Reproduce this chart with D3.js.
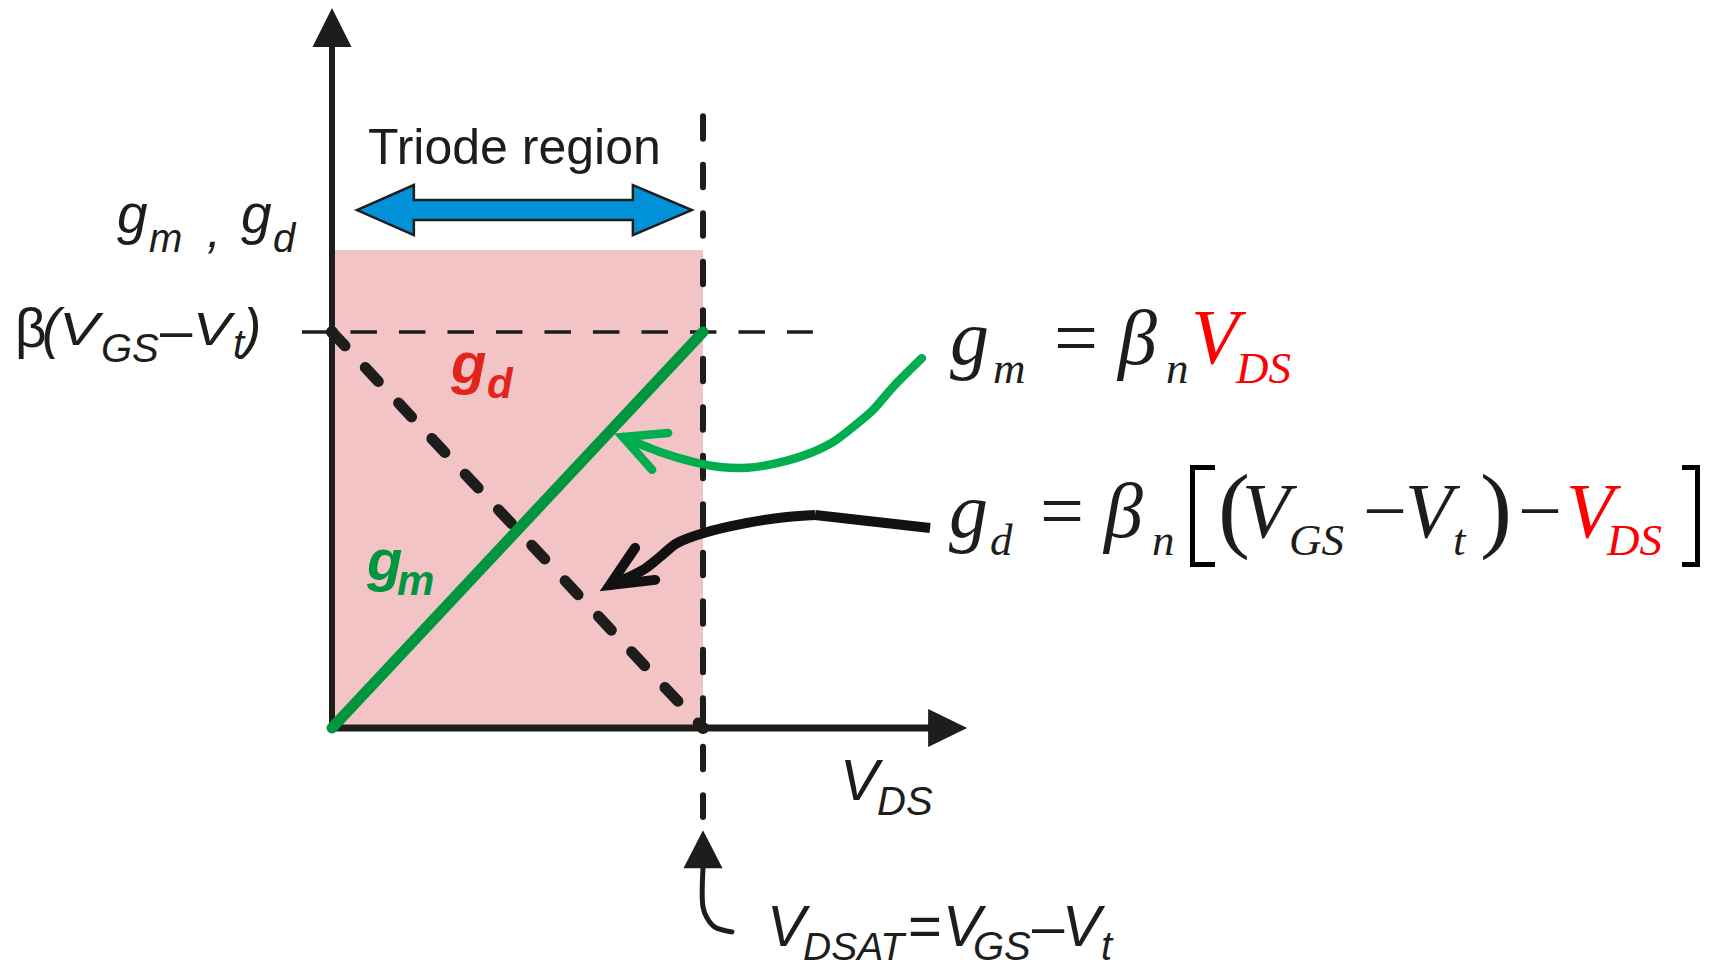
<!DOCTYPE html>
<html>
<head>
<meta charset="utf-8">
<script src="https://cdn.jsdelivr.net/npm/d3@7"></script>
<style>
  body { margin: 0; background: #fff; }
  svg { display: block; }
</style>
</head>
<body>
<svg id="chart" width="1715" height="964"></svg>
<script>
let width = 1715,
  height = 964

// normalised units: VDS / VDSAT on x, g / β(VGS−Vt) on y
let vds = [0, 1]
let gmValues = [0, 1]     // gm = βn·VDS
let gdValues = [1, 0]     // gd = βn[(VGS−Vt) − VDS]
let triodeTop = 1.207
let axisEnd = [1.712, 1.818]
let refLineX = [-0.081, 1.296]
let vdsatLineY = [1.545, -0.225]
let triodeSpan = [0.067, 0.970, 1.308]

// hand-drawn pointer curves, same units
let gmPointer = [[1.590, 0.934], [1.512, 0.861], [1.458, 0.803], [1.404, 0.760], [1.350, 0.722],
  [1.288, 0.694], [1.199, 0.669], [1.119, 0.657], [1.046, 0.659], [0.973, 0.672], [0.884, 0.697], [0.784, 0.735]]
let gmPointerHead = [[0.906, 0.745], [0.784, 0.735], [0.863, 0.652]]
let gdPointerStraight = [[1.612, 0.505], [1.302, 0.538]]
let gdPointer = [[1.302, 0.538], [1.226, 0.533], [1.119, 0.518], [1.000, 0.492], [0.930, 0.467],
  [0.884, 0.432], [0.838, 0.399], [0.749, 0.361]]
let gdPointerHead = [[0.817, 0.455], [0.749, 0.361], [0.871, 0.374]]
let vdsatPointer = [[1, -0.354], [1, -0.452], [1.011, -0.480], [1.032, -0.503], [1.078, -0.515]]
let vdsatTip = [1, -0.258]

let ink = "#1d1d1b",
  sans = "'Liberation Sans', Arial, Helvetica, sans-serif",
  serif = "'Liberation Serif', 'Times New Roman', Times, serif"

let x = d3.scaleLinear().domain([0, 1]).range([332, 703]),
  y = d3.scaleLinear().domain([0, 1]).range([728, 332])

let line = d3.line().x(d => x(d[0])).y(d => y(d[1]))
let smooth = d3.line().x(d => x(d[0])).y(d => y(d[1])).curve(d3.curveCatmullRom)

let svg = d3.select("#chart")
svg.append("rect").attr("width", width).attr("height", height).attr("fill", "#fff")

// triode region shading
svg.append("rect")
  .attr("x", x(vds[0]))
  .attr("y", y(triodeTop))
  .attr("width", x(vds[1]) - x(vds[0]))
  .attr("height", y(0) - y(triodeTop))
  .attr("fill", "#f3c4c6")

// β(VGS−Vt) reference line
svg.append("path")
  .attr("d", line([[refLineX[0], 1], [refLineX[1], 1]]))
  .attr("stroke", ink).attr("stroke-width", 3.5)
  .attr("stroke-dasharray", "26.5,22").attr("fill", "none")

// VDSAT line
svg.append("path")
  .attr("d", line([[1, vdsatLineY[0]], [1, vdsatLineY[1]]]))
  .attr("stroke", ink).attr("stroke-width", 6)
  .attr("stroke-linecap", "round")
  .attr("stroke-dasharray", "22.5,26").attr("fill", "none")

// axes
svg.append("line")
  .attr("x1", x(0)).attr("y1", y(0)).attr("x2", x(0)).attr("y2", y(axisEnd[1]) + 38)
  .attr("stroke", ink).attr("stroke-width", 6)
svg.append("path")
  .attr("d", `M${x(0)},${y(axisEnd[1])} L${x(0) - 19.5},${y(axisEnd[1]) + 39} L${x(0) + 19.5},${y(axisEnd[1]) + 39} Z`)
  .attr("fill", ink)
svg.append("line")
  .attr("x1", x(0) - 3).attr("y1", y(0)).attr("x2", x(axisEnd[0]) - 38).attr("y2", y(0))
  .attr("stroke", ink).attr("stroke-width", 7)
svg.append("path")
  .attr("d", `M${x(axisEnd[0])},${y(0)} L${x(axisEnd[0]) - 39},${y(0) - 19} L${x(axisEnd[0]) - 39},${y(0) + 19} Z`)
  .attr("fill", ink)

// gd (dashed) and gm (solid)
svg.append("path")
  .attr("d", line(vds.map((v, i) => [v, gdValues[i]])))
  .attr("stroke", ink).attr("stroke-width", 11)
  .attr("stroke-linecap", "round")
  .attr("stroke-dasharray", "19,29.7").attr("fill", "none")

svg.append("path")
  .attr("d", line(vds.map((v, i) => [v, gmValues[i]])))
  .attr("stroke", "#00953f").attr("stroke-width", 11)
  .attr("stroke-linecap", "round").attr("fill", "none")

svg.selectAll("circle.node")
  .data([[0, 1], [1, 0]]).enter()
  .append("circle")
  .attr("class", "node")
  .attr("cx", d => x(d[0])).attr("cy", d => y(d[1]))
  .attr("r", 6).attr("fill", ink)

// triode region double arrow
let L = x(triodeSpan[0]), R = x(triodeSpan[1]), cy = y(triodeSpan[2])
let arrowPts = [[L, cy], [L + 57, cy - 25], [L + 57, cy - 10], [R - 59, cy - 10], [R - 59, cy - 25],
  [R, cy], [R - 59, cy + 25], [R - 59, cy + 10], [L + 57, cy + 10], [L + 57, cy + 25]]
svg.append("polygon")
  .attr("points", arrowPts.map(p => p.join(",")).join(" "))
  .attr("fill", "#0091d9").attr("stroke", ink).attr("stroke-width", 2.5)
  .attr("stroke-linejoin", "miter")

// pointer arrows
svg.append("path").attr("d", smooth(gmPointer))
  .attr("stroke", "#00ad4f").attr("stroke-width", 8.5).attr("fill", "none").attr("stroke-linecap", "round")
svg.append("path").attr("d", line(gmPointerHead))
  .attr("stroke", "#00ad4f").attr("stroke-width", 8.5).attr("fill", "none")
  .attr("stroke-linecap", "round").attr("stroke-linejoin", "miter")

svg.append("path").attr("d", line(gdPointerStraight))
  .attr("stroke", "#111").attr("stroke-width", 10).attr("fill", "none")
svg.append("path").attr("d", smooth(gdPointer))
  .attr("stroke", "#111").attr("stroke-width", 10).attr("fill", "none")
svg.append("path").attr("d", line(gdPointerHead))
  .attr("stroke", "#111").attr("stroke-width", 10).attr("fill", "none")
  .attr("stroke-linecap", "round").attr("stroke-linejoin", "miter").attr("stroke-miterlimit", 10)

svg.append("path").attr("d", smooth(vdsatPointer))
  .attr("stroke", ink).attr("stroke-width", 5).attr("fill", "none").attr("stroke-linecap", "round")
let tx = x(vdsatTip[0]), ty = y(vdsatTip[1])
svg.append("path")
  .attr("d", `M${tx},${ty} L${tx - 19.5},${ty + 38} L${tx + 19.5},${ty + 38} Z`)
  .attr("fill", ink)

// text
function label(px, py, str, size, o = {}) {
  let t = svg.append("text")
    .attr("x", px).attr("y", py)
    .attr("font-size", size)
    .attr("font-family", o.serif ? serif : sans)
    .attr("font-style", o.italic ? "italic" : "normal")
    .attr("font-weight", o.bold ? "bold" : "normal")
    .attr("fill", o.fill || ink)
    .text(str)
  if (o.len) t.attr("textLength", o.len).attr("lengthAdjust", "spacingAndGlyphs")
  return t
}

label(368, 164, "Triode region", 50)

// y-axis label
label(117, 233, "g", 55, {italic: true})
label(149, 252, "m", 40, {italic: true})
label(207, 247, ",", 50, {italic: true})
label(241, 233, "g", 55, {italic: true})
label(273, 252, "d", 40, {italic: true})

// β(VGS−Vt) tick label
label(15, 347, "β", 55)
label(42, 347, "(", 55, {italic: true})
label(59, 345, "V", 46, {italic: true, len: 40})
label(101, 362, "GS", 40, {italic: true})
label(160, 350, "–", 58)
label(193, 345, "V", 46, {italic: true, len: 38})
label(233, 358, "t", 40, {italic: true})
label(243, 347, ")", 55, {italic: true})

// in-plot curve labels
label(451, 383, "g", 58, {italic: true, bold: true, fill: "#e1251b"})
label(487, 398, "d", 42, {italic: true, bold: true, fill: "#e1251b"})
label(367, 580, "g", 58, {italic: true, bold: true, fill: "#00953f"})
label(397, 595, "m", 42, {italic: true, bold: true, fill: "#00953f"})

// x-axis label
label(840, 800, "V", 58, {italic: true})
label(877, 815, "DS", 40, {italic: true})

// VDSAT label
label(767, 946, "V", 58, {italic: true})
label(803, 960, "DSAT", 39, {italic: true})
label(908, 946, "=", 58)
label(943, 946, "V", 58, {italic: true})
label(973, 960, "GS", 40, {italic: true})
label(1032, 946, "–", 58)
label(1062, 946, "V", 58, {italic: true})
label(1101, 960, "t", 40, {italic: true})

// gm equation
let eq = {serif: true, italic: true}
label(950, 364, "g", 78, eq)
label(993, 383, "m", 45, eq)
label(1054, 364, "=", 78, {serif: true})
label(1118, 364, "β", 78, eq)
label(1166, 383, "n", 45, eq)
label(1191, 363, "V", 78, {serif: true, italic: true, fill: "#ff0000"})
label(1236, 383, "DS", 45, {serif: true, italic: true, fill: "#ff0000"})

// gd equation
label(949, 537, "g", 78, eq)
label(990, 555, "d", 45, eq)
label(1040, 537, "=", 78, {serif: true})
label(1104, 537, "β", 78, eq)
label(1152, 555, "n", 45, eq)
svg.append("path").attr("d", "M1215,467.5 H1192.5 V564.5 H1215")
  .attr("stroke", "#000").attr("stroke-width", 5).attr("fill", "none")
label(1218, 540, "(", 96, {serif: true})
label(1242, 537, "V", 78, eq)
label(1289, 555, "GS", 45, eq)
label(1363, 537, "−", 78, {serif: true})
label(1405, 537, "V", 78, eq)
label(1453, 555, "t", 45, eq)
label(1480, 540, ")", 96, {serif: true})
label(1518, 537, "−", 78, {serif: true})
label(1566, 537, "V", 78, {serif: true, italic: true, fill: "#ff0000"})
label(1607, 555, "DS", 45, {serif: true, italic: true, fill: "#ff0000"})
svg.append("path").attr("d", "M1682,467.5 H1697.5 V564.5 H1682")
  .attr("stroke", "#000").attr("stroke-width", 5).attr("fill", "none")
</script>
</body>
</html>
